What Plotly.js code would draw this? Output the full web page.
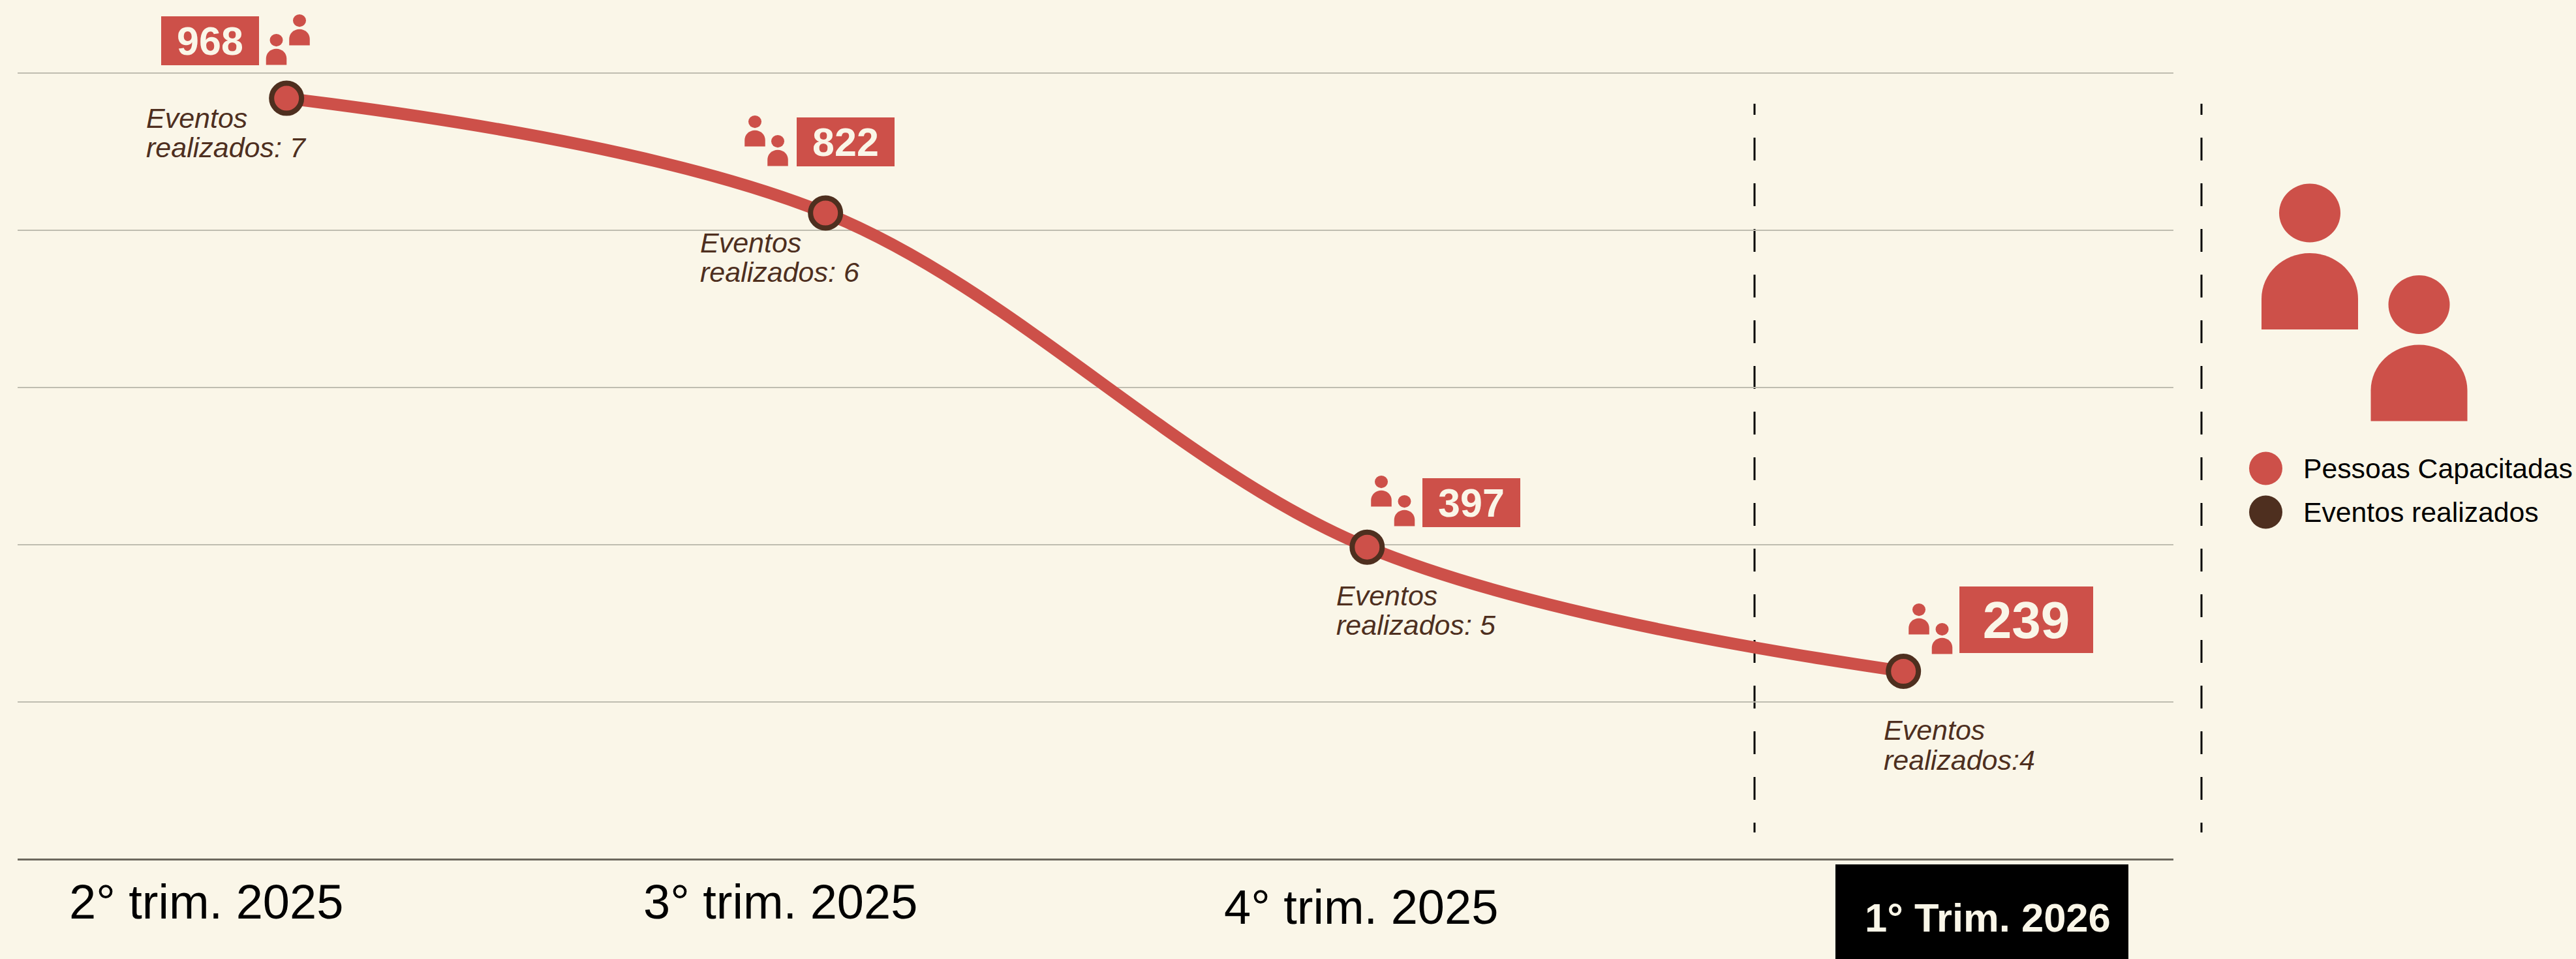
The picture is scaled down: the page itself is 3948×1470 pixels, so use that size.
<!DOCTYPE html>
<html><head><meta charset="utf-8">
<script src="https://cdn.plot.ly/plotly-3.0.1.min.js"></script>
<style>html,body{margin:0;padding:0;background:#FAF6E8;overflow:hidden}</style>
</head><body><div id="chart" style="width:3948px;height:1470px"></div>
<script>
const quarters = ["2° trim. 2025","3° trim. 2025","4° trim. 2025","1° Trim. 2026"];
const quarterPos = [-0.001,0.999,2.004,2.999];
const pessoas = [968,822,397,239];
const eventosLine1 = ["Eventos","Eventos","Eventos","Eventos"];
const eventosLine2 = ["realizados: 7","realizados: 6","realizados: 5","realizados:4"];
const legendNames = ["Pessoas Capacitadas","Eventos realizados"];
const gridTicks = [0,200,400,600,800,1000];

const RED="#CD5049", BROWN="#4E2F1F", BG="#FAF6E8", FONT="Liberation Sans, Arial, sans-serif";
const W=3948,H=1470,L=27,R=617,T=100,B=153;
const fx=p=>(p-L)/(W-L-R), fy=p=>1-(p-T)/(H-T-B);

// decoration layout, in page pixels
const boxOffsets=[[-117,-88,150,75,61],[31,-109,150,75,61],[160,-68,150,75,61],[188,-79,205,102,80]];
const eventOffsets=[[222.5,181,226],[1071.5,372,417],[2046.5,913,958],[2885.5,1119,1165]];
const tickPx=[[105,1382],[984.5,1382],[1875,1390]];
const iconPx=[[423.5,52,459,22],[1157,177,1192,207],[2117,729,2152.5,759],[2941,925,2976.5,955]];

const shapes=[],annotations=[];
function person(cx,top,s){
  const rx=47*s, ry=45*s, hw=74*s, bt=top+106.5*s, bb=top+223.5*s, dome=70*s, k=0.5523;
  shapes.push({type:"circle",xref:"paper",yref:"paper",x0:fx(cx-rx),x1:fx(cx+rx),y0:fy(top+2*ry),y1:fy(top),fillcolor:RED,line:{width:0},layer:"above"});
  const P=(x,y)=>fx(x)+","+fy(y);
  const d="M"+P(cx-hw,bb)+" L"+P(cx-hw,bt+dome)+
    " C"+P(cx-hw,bt+dome*(1-k))+" "+P(cx-hw*k,bt)+" "+P(cx,bt)+
    " C"+P(cx+hw*k,bt)+" "+P(cx+hw,bt+dome*(1-k))+" "+P(cx+hw,bt+dome)+
    " L"+P(cx+hw,bb)+" Z";
  shapes.push({type:"path",xref:"paper",yref:"paper",path:d,fillcolor:RED,line:{width:0},layer:"above"});
}
function vdash(x){
  const d=["17px","35px"]; for(let i=0;i<15;i++){d.push("35px","35px");} d.push("17px","100px");
  shapes.push({type:"line",xref:"paper",yref:"paper",x0:fx(x),x1:fx(x),y0:fy(159),y1:fy(1276),line:{color:"#000",width:3,dash:d.join(",")},layer:"below"});
}
vdash(2689); vdash(3374);
shapes.push({type:"rect",xref:"paper",yref:"paper",x0:fx(2813),x1:fx(3262),y0:fy(1325),y1:fy(1470),fillcolor:"#000",line:{width:0},layer:"above"});

iconPx.forEach(a=>{person(a[0],a[1],0.213);person(a[2],a[3],0.213);});
person(3540,281.5,1); person(3707.5,422,1);

pessoas.forEach((v,i)=>{
  const o=boxOffsets[i];
  annotations.push({x:quarterPos[i],y:v,xref:"x",yref:"y",text:"<b>"+v+"</b>",showarrow:false,xanchor:"center",yanchor:"middle",
    xshift:o[0],yshift:-o[1],width:o[2],height:o[3],bgcolor:RED,borderpad:0,borderwidth:0,align:"center",valign:"middle",
    font:{family:FONT,size:o[4],color:BG}});
  const e=eventOffsets[i];
  [eventosLine1[i],eventosLine2[i]].forEach((t,j)=>{
    annotations.push({xref:"paper",yref:"paper",x:fx(e[0]),y:fy(e[j+1]),text:"<i>"+t+"</i>",showarrow:false,xanchor:"left",yanchor:"middle",
      borderpad:0,font:{family:FONT,size:43,color:BROWN}});
  });
});
tickPx.forEach((p,i)=>{
  annotations.push({xref:"paper",yref:"paper",x:fx(p[0]),y:fy(p[1]),text:quarters[i],showarrow:false,xanchor:"left",yanchor:"middle",
    borderpad:0,font:{family:FONT,size:74,color:"#000"}});
});
annotations.push({xref:"paper",yref:"paper",x:fx(2857),y:fy(1406),text:"<b>"+quarters[3]+"</b>",showarrow:false,xanchor:"left",yanchor:"middle",
  borderpad:0,font:{family:FONT,size:61.5,color:BG}});

[[718,RED],[785,BROWN]].forEach((r,i)=>{
  shapes.push({type:"circle",xref:"paper",yref:"paper",x0:fx(3447),x1:fx(3498),y0:fy(r[0]+25.5),y1:fy(r[0]-25.5),fillcolor:r[1],line:{width:0},layer:"above"});
  annotations.push({xref:"paper",yref:"paper",x:fx(3529),y:fy(r[0]),text:legendNames[i],showarrow:false,xanchor:"left",yanchor:"middle",
    borderpad:0,font:{family:FONT,size:42.7,color:"#000"}});
});

const data=[{type:"scatter",mode:"lines+markers",x:quarterPos,y:pessoas,name:legendNames[0],
  line:{color:RED,width:18.5,shape:"spline",smoothing:1},
  marker:{color:RED,size:46,line:{color:BROWN,width:8}},cliponaxis:false,hoverinfo:"skip"}];

Plotly.newPlot("chart",data,{
  width:W,height:H,autosize:false,showlegend:false,
  paper_bgcolor:BG,plot_bgcolor:BG,
  margin:{l:L,r:R,t:T,b:B,pad:0},
  xaxis:{type:"linear",range:[-0.5,3.5],showgrid:false,zeroline:false,showticklabels:false,ticks:"",showline:false},
  yaxis:{range:[0,1010],tickvals:gridTicks,showticklabels:false,ticks:"",showgrid:true,gridcolor:"#BFBDB0",gridwidth:2,
    zeroline:true,zerolinecolor:"#6C685D",zerolinewidth:3,showline:false},
  shapes,annotations,font:{family:FONT}
},{displayModeBar:false,staticPlot:true});
</script></body></html>
